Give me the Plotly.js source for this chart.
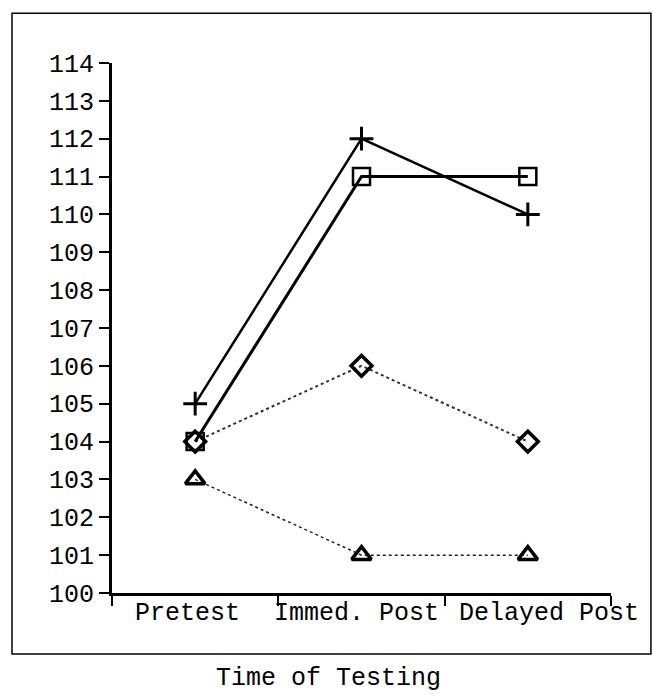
<!DOCTYPE html>
<html>
<head>
<meta charset="utf-8">
<script src="https://cdn.plot.ly/plotly-3.0.1.min.js"></script>
<style>html,body{margin:0;padding:0;background:#fff;}#chart{width:653px;height:696px;}</style>
</head>
<body>
<div id="chart"></div>
<script>
const categories = ["Pretest", "Immed. Post", "Delayed Post"];
const plusSeries = [105, 112, 110];
const squareSeries = [104, 111, 111];
const diamondSeries = [104, 106, 104];
const triangleSeries = [103, 101, 101];
const yTickVals = [100,101,102,103,104,105,106,107,108,109,110,111,112,113,114];
const xAxisTitle = "Time of Testing";

const font = "Liberation Mono, Courier New, monospace";
const fsize = 25;

const traces = [
  {x: categories, y: triangleSeries, mode: "lines+markers", cliponaxis: false,
   line: {color: "#222", width: 1.5, dash: "dot"},
   marker: {symbol: "triangle-up-open", size: 17, color: "#000", line: {width: 3.5, color: "#000"}}},
  {x: categories, y: diamondSeries, mode: "lines+markers", cliponaxis: false,
   line: {color: "#333", width: 2, dash: "dot"},
   marker: {symbol: "diamond-open", size: 16, color: "#000", line: {width: 3.5, color: "#000"}}},
  {x: categories, y: plusSeries, mode: "lines+markers", cliponaxis: false,
   line: {color: "#000", width: 2.5},
   marker: {symbol: "cross-thin-open", size: 17, color: "#000", line: {width: 3, color: "#000"}}},
  {x: categories, y: squareSeries, mode: "lines+markers", cliponaxis: false,
   line: {color: "#000", width: 3},
   marker: {symbol: "square-open", size: 17, color: "#000", line: {width: 2.5, color: "#000"}}}
];

const labelShifts = [-8, -5, 21];
const annotations = categories.map((c, i) => ({
  text: c, xref: "x", yref: "paper", x: c, y: -0.0396, xshift: labelShifts[i],
  xanchor: "center", yanchor: "middle", showarrow: false,
  font: {family: font, size: fsize, color: "#000"}
}));
annotations.push({text: xAxisTitle, xref: "paper", yref: "paper", x: 0.433, y: -0.162,
  xanchor: "center", yanchor: "middle", showarrow: false,
  font: {family: font, size: fsize, color: "#000"}});

const layout = {
  width: 653, height: 696,
  margin: {l: 112, r: 42, t: 63, b: 103},
  paper_bgcolor: "#fff", plot_bgcolor: "#fff",
  showlegend: false,
  font: {family: font, size: fsize, color: "#000"},
  xaxis: {
    type: "category", range: [-0.5, 2.5], fixedrange: true,
    showline: true, linecolor: "#000", linewidth: 3,
    showgrid: false, zeroline: false, showticklabels: false,
    ticks: "outside", tickson: "boundaries", ticklen: 10, tickwidth: 2, tickcolor: "#000"
  },
  yaxis: {
    range: [100, 114], tickvals: yTickVals, fixedrange: true,
    showline: true, linecolor: "#000", linewidth: 3,
    showgrid: false, zeroline: false,
    ticks: "outside", ticklen: 10, tickwidth: 2, tickcolor: "#000",
    tickfont: {family: font, size: fsize, color: "#000"}
  },
  shapes: [
    {type: "rect", xref: "paper", yref: "paper", x0: -0.2004, x1: 1.080, y0: -0.115, y1: 1.094,
     line: {color: "#000", width: 1.5}, fillcolor: "rgba(0,0,0,0)", layer: "below"}
  ],
  annotations: annotations
};

Plotly.newPlot("chart", traces, layout, {displayModeBar: false, staticPlot: true});
</script>
</body>
</html>
